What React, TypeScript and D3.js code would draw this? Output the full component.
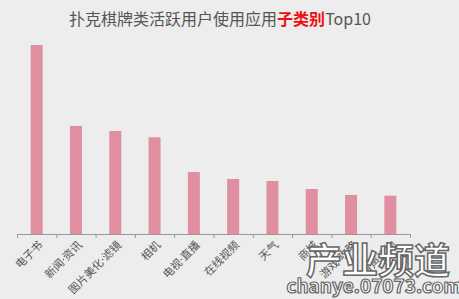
import React from "react";
import * as d3 from "d3";

const categories = ["电子书", "新闻·资讯", "图片美化·滤镜", "相机", "电视·直播", "在线视频", "天气", "商城", "游戏·攻略", "有声读物"];
const values = [189, 108, 103, 96.7, 62, 55, 53, 45, 39, 38.3];

const W = 459, H = 299;

export default function App() {
  const x = d3.scaleBand<string>().domain(categories).range([17, 410]).paddingInner(0).paddingOuter(0);
  const y = d3.scaleLinear().domain([0, 200]).range([234, 34]);
  const barW = 12;
  const font = "'Noto Sans CJK SC', 'Microsoft YaHei', sans-serif";
  const labelFont = "'Noto Sans', 'Noto Sans CJK SC', sans-serif";
  const ticks = d3.range(categories.length + 1).map(i => 17 + i * x.bandwidth());
  return (
    <svg width={W} height={H} style={{ position: "absolute", left: 0, top: 0, background: "#ededed" }}>
      <rect x={0} y={0} width={W} height={H} fill="#ededed" />
      <text x={220} y={25} textAnchor="middle" fontFamily={font} fontSize={16} fill="#555">
        扑克棋牌类活跃用户使用应用<tspan fill="#ee1111" fontWeight="bold">子类别</tspan>Top10
      </text>
      {categories.map((c, i) => {
        const cx = (x(c) as number) + x.bandwidth() / 2;
        return (
          <rect key={c} x={cx - barW / 2} y={y(values[i])} width={barW} height={y(0) - y(values[i])} fill="#e08fa0" />
        );
      })}
      <line x1={17} x2={410} y1={234.5} y2={234.5} stroke="#999" strokeWidth={1} />
      {ticks.map((t, i) => (
        <line key={i} x1={t + 0.5} x2={t + 0.5} y1={234} y2={238} stroke="#999" strokeWidth={1} />
      ))}
      {categories.map((c) => {
        const cx = (x(c) as number) + x.bandwidth() / 2;
        return (
          <text key={c} transform={`translate(${cx + 4},${243}) rotate(-45)`} textAnchor="end" dy="0.35em"
            fontFamily={labelFont} fontSize={11} fill="#555">{c}</text>
        );
      })}
      <g fontFamily={font} fontWeight="bold">
        <text x={378} y={274} textAnchor="middle" fontSize={36} fill="#fff" stroke="#666" strokeWidth={1.5}>产业频道</text>
        <text x={374} y={293} textAnchor="middle" fontSize={19} fill="#fff" stroke="#666" strokeWidth={1.2}>chanye.07073.com</text>
      </g>
    </svg>
  );
}
